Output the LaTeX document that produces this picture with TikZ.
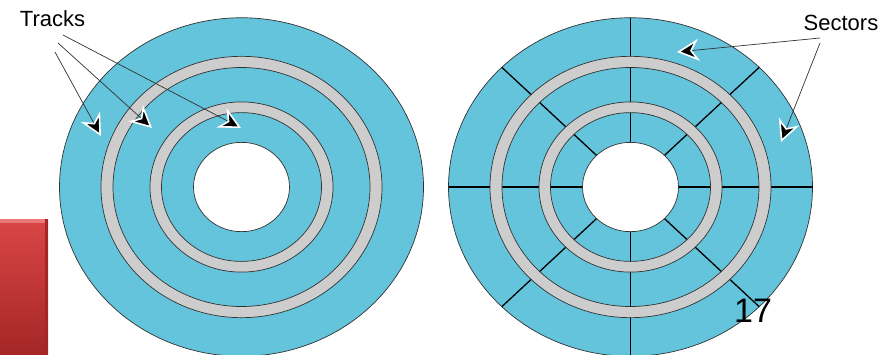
\documentclass[tikz,border=0pt]{standalone}
\usepackage{fontspec}
\setmainfont{Liberation Sans}
\usetikzlibrary{arrows.meta}
\definecolor{diskblue}{RGB}{100,196,220}
\definecolor{ringgray}{RGB}{205,205,205}
\definecolor{edgegray}{RGB}{50,50,50}
\definecolor{tabred}{RGB}{218,70,70}
\definecolor{tabreddark}{RGB}{165,38,38}
\definecolor{tabredlight}{RGB}{236,120,120}

\begin{document}
\begin{tikzpicture}[x=1pt, y=-1pt,
    platter/.style={fill=diskblue, draw=edgegray, line width=0.7pt},
    track/.style={fill=ringgray, draw=edgegray, line width=0.7pt, even odd rule},
    hole/.style={fill=white, draw=edgegray, line width=0.7pt},
    sector/.style={draw=black, line width=1.3pt},
    lbl/.style={font=\fontsize{22}{24}\selectfont, anchor=base, inner sep=0pt},
    arr/.style={draw=edgegray, line width=0.7pt,
                -{Stealth[length=22pt, width=22pt, inset=7pt, color=white, fill=black, line width=1.6pt]}}
  ]
  \useasboundingbox (0,0) rectangle (883,354);

  % red tab on the left edge
  \shade[top color=tabred, bottom color=tabreddark] (0,219) rectangle (48,354);
  \fill[tabredlight] (0,219) rectangle (48,223);
  \fill[tabreddark] (45,219) rectangle (48,354);

  % the two platters
  \foreach \cx in {241.5, 630.5} {
    \begin{scope}[shift={(\cx,187)}, yscale=0.93]
      \draw[platter] (0,0) circle (182);
    \end{scope}
  }
  % sector borders on the right platter
  \begin{scope}[shift={(630.5,187)}, yscale=0.93]
    \foreach \a in {0,45,...,315}
      \draw[sector] (\a:48) -- (\a:182);
  \end{scope}
  \foreach \cx in {241.5, 630.5} {
    \begin{scope}[shift={(\cx,187)}, yscale=0.93]
      \draw[track] (0,0) circle (140.5) (0,0) circle (128.5);
      \draw[track] (0,0) circle (91.5) (0,0) circle (80);
      \draw[hole] (0,0) circle (48);
    \end{scope}
  }

  % labels
  \node[lbl] (tracks) at (52.5,26) {Tracks};
  \node[lbl] (sectors) at (841,30.5) {Sectors};
  \node[font=\fontsize{34}{36}\selectfont, anchor=base, inner sep=0pt] (pagenum) at (753,322) {17};

  \coordinate (trs1) at (55,52);   \coordinate (trt1) at (101,136);
  \coordinate (trs2) at (58,43);   \coordinate (trt2) at (152,128);
  \coordinate (trs3) at (63,35);   \coordinate (trt3) at (241,128);
  \coordinate (scs1) at (820,38);  \coordinate (sct1) at (677,52);
  \coordinate (scs2) at (820,43);  \coordinate (sct2) at (781,142);

  \draw[arr] (trs1) -- (trt1);
  \draw[arr] (trs2) -- (trt2);
  \draw[arr] (trs3) -- (trt3);
  \draw[arr] (scs1) -- (sct1);
  \draw[arr] (scs2) -- (sct2);
\end{tikzpicture}
\end{document}
